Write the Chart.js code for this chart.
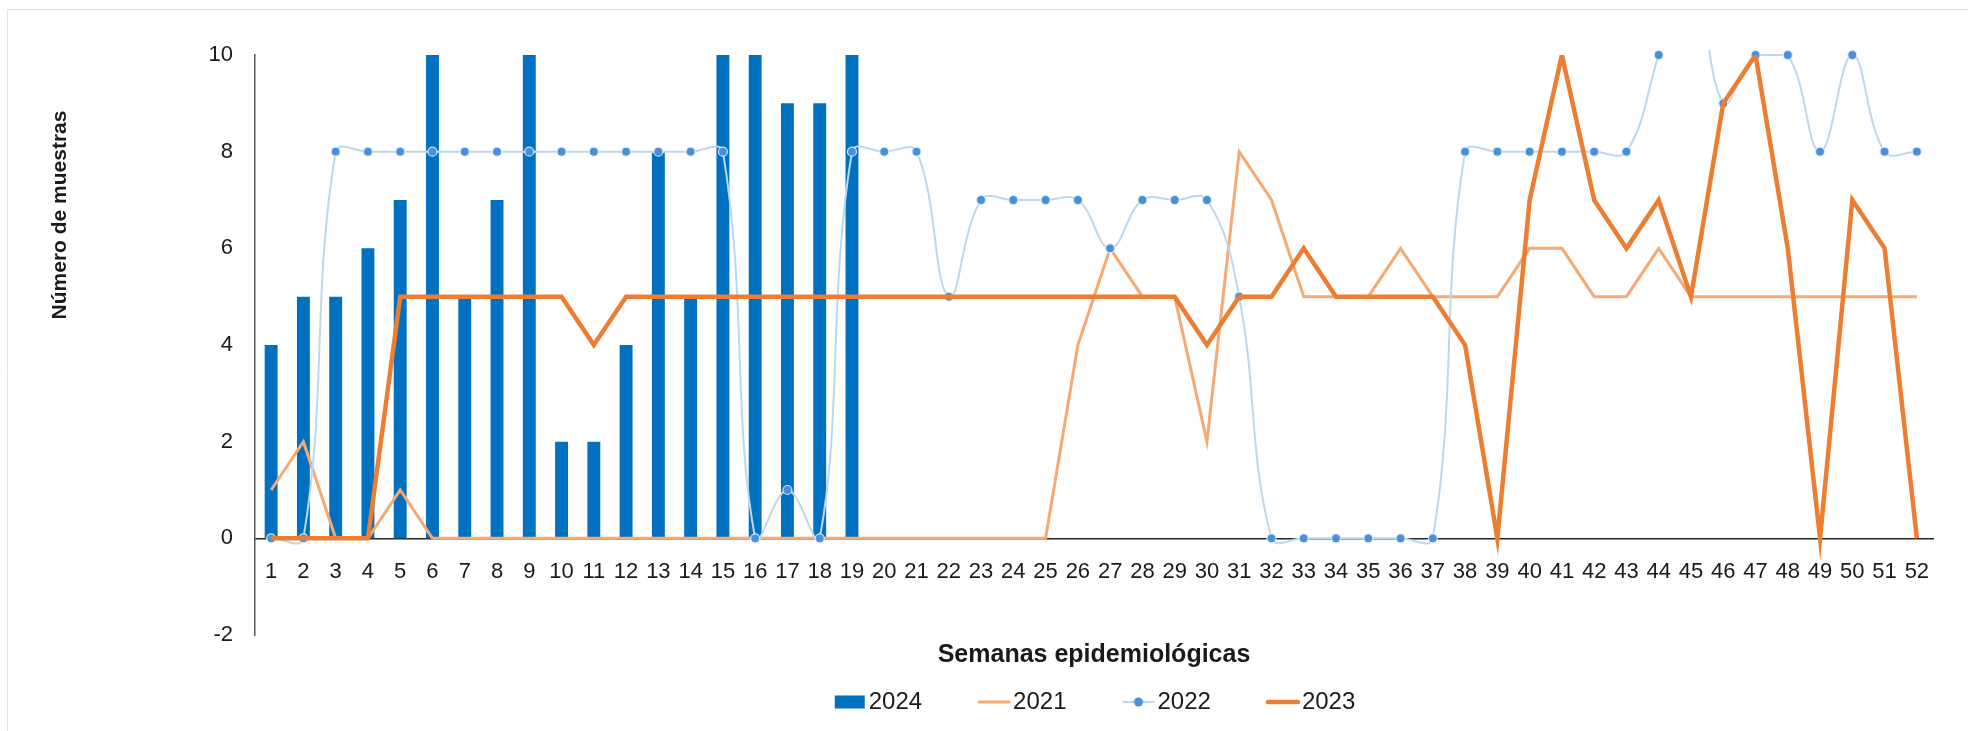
<!DOCTYPE html>
<html>
<head>
<meta charset="utf-8">
<script src="https://cdn.jsdelivr.net/npm/chart.js@4/dist/chart.umd.min.js"></script>
<style>
  body { margin: 0; background: #fff; }
  canvas { display: block; }
</style>
</head>
<body>
<canvas id="weekChart" width="1973" height="731"></canvas>
<script>
//############################
//######    Data     ########
//############################

const weeks = ["1","2","3","4","5","6","7","8","9","10","11","12","13",
  "14","15","16","17","18","19","20","21","22","23","24","25","26",
  "27","28","29","30","31","32","33","34","35","36","37","38","39",
  "40","41","42","43","44","45","46","47","48","49","50","51","52"];

// samples per week, 2024 only goes up to week 19
const s2024 = [4, 5, 5, 6, 7, 10, 5, 7, 10, 2, 2, 4, 8, 5, 10, 10, 9, 9, 10];

const s2021 = [1, 2, 0, 0, 1, 0, 0, 0, 0, 0,
  0, 0, 0, 0, 0, 0, 0, 0, 0, 0,
  0, 0, 0, 0, 0, 4, 6, 5, 5, 2,
  8, 7, 5, 5, 5, 6, 5, 5, 5, 6,
  6, 5, 5, 6, 5, 5, 5, 5, 5, 5,
  5, 5];

// week 45 goes above the top of the axis and is cut off
const s2022 = [0, 0, 8, 8, 8, 8, 8, 8, 8, 8,
  8, 8, 8, 8, 8, 0, 1, 0, 8, 8,
  8, 5, 7, 7, 7, 7, 6, 7, 7, 7,
  5, 0, 0, 0, 0, 0, 0, 8, 8, 8,
  8, 8, 8, 10, 12, 9, 10, 10, 8, 10,
  8, 8];

const s2023 = [0, 0, 0, 0, 5, 5, 5, 5, 5, 5,
  4, 5, 5, 5, 5, 5, 5, 5, 5, 5,
  5, 5, 5, 5, 5, 5, 5, 5, 5, 4,
  5, 5, 6, 5, 5, 5, 5, 4, 0, 7,
  10, 7, 6, 7, 5, 9, 10, 6, 0, 7,
  6, 0];

const yTicks = [-2, 0, 2, 4, 6, 8, 10];

const xTitle = "Semanas epidemiológicas";
const yTitle = "Número de muestras";

//############################
//######   Styling   ########
//############################

const FONT = '"Liberation Sans", Arial, sans-serif';
const TEXT = "#1a1a1a";

const colBar = "#0070C0";
const col2021 = "#F5A973";
const col2022 = "#BDD7EE";
const col2022Dot = "#4A90D9";
const col2023 = "#ED7D31";

// little canvases used as legend symbols, symbol sits on the right so it hugs the text
function legendMark(kind) {
  const c = document.createElement("canvas");
  c.width = 44;
  c.height = 14;
  const g = c.getContext("2d");
  if (kind === "bar") {
    g.fillStyle = colBar;
    g.fillRect(12, 0.5, 30, 13);
  } else {
    const color = kind === "2021" ? col2021 : kind === "2022" ? col2022 : col2023;
    g.strokeStyle = color;
    g.lineWidth = kind === "2023" ? 4.5 : kind === "2021" ? 3 : 2;
    g.lineCap = "round";
    g.beginPath();
    g.moveTo(12, 7);
    g.lineTo(42, 7);
    g.stroke();
    if (kind === "2022") {
      g.fillStyle = col2022Dot;
      g.beginPath();
      g.arc(27, 7, 4.5, 0, Math.PI * 2);
      g.fill();
    }
  }
  return c;
}

const marks = [legendMark("bar"), legendMark("2021"), legendMark("2022"), legendMark("2023")];

// axis titles + the faint frame
const titlesPlugin = {
  id: "titlesPlugin",
  beforeDraw(chart) {
    const ctx = chart.ctx;
    ctx.save();
    ctx.strokeStyle = "#e3e3e3";
    ctx.lineWidth = 1;
    ctx.beginPath();
    ctx.moveTo(7.5, chart.height);
    ctx.lineTo(7.5, 9.5);
    ctx.lineTo(chart.width - 4, 9.5);
    ctx.stroke();
    ctx.restore();
  },
  afterDraw(chart) {
    const ctx = chart.ctx;
    const area = chart.chartArea;
    ctx.save();
    ctx.fillStyle = TEXT;
    ctx.textAlign = "center";
    ctx.textBaseline = "middle";
    ctx.font = "bold 25px " + FONT;
    ctx.fillText(xTitle, (area.left + area.right) / 2, area.bottom + 20);
    ctx.font = "bold 21px " + FONT;
    ctx.translate(60, 215);
    ctx.rotate(-Math.PI / 2);
    ctx.fillText(yTitle, 0, 0);
    ctx.restore();
  }
};

//############################
//######    Chart    ########
//############################

const config = {
  type: "bar",
  data: {
    labels: weeks,
    datasets: [
      {
        type: "bar",
        label: "2024",
        data: s2024,
        backgroundColor: colBar,
        barPercentage: 0.4,
        categoryPercentage: 1,
        order: 4
      },
      {
        type: "line",
        label: "2021",
        data: s2021,
        borderColor: col2021,
        borderWidth: 3,
        pointRadius: 0,
        tension: 0,
        order: 3
      },
      {
        type: "line",
        label: "2022",
        data: s2022,
        borderColor: col2022,
        borderWidth: 2,
        pointRadius: 4.5,
        pointBackgroundColor: col2022Dot,
        pointBorderColor: "rgba(225,237,248,0.9)",
        pointBorderWidth: 1.2,
        tension: 0.4,
        clip: { left: 10, top: 5, right: 10, bottom: 10 },
        order: 2
      },
      {
        type: "line",
        label: "2023",
        data: s2023,
        borderColor: col2023,
        borderWidth: 4.5,
        pointRadius: 0,
        tension: 0,
        order: 1
      }
    ]
  },
  options: {
    responsive: false,
    animation: false,
    devicePixelRatio: 1,
    events: [],
    layout: {
      padding: { left: 0, right: 40, top: 55, bottom: 7 }
    },
    scales: {
      x: {
        type: "category",
        offset: true,
        position: { y: 0 },
        grid: { display: false, drawTicks: false },
        border: { display: true, color: "#262626", width: 1.5 },
        ticks: {
          color: TEXT,
          font: { family: FONT, size: 22 },
          padding: 20,
          autoSkip: false,
          maxRotation: 0
        }
      },
      y: {
        min: -2,
        max: 10,
        afterFit: function (scale) {
          scale.width = 255;
        },
        afterBuildTicks: function (scale) {
          scale.ticks = yTicks.map(v => ({ value: v }));
        },
        grid: { display: false, drawTicks: false },
        border: { display: true, color: "#595959", width: 1.5 },
        ticks: {
          color: TEXT,
          font: { family: FONT, size: 22 },
          padding: 22
        }
      }
    },
    plugins: {
      tooltip: { enabled: false },
      title: { display: false },
      legend: {
        display: true,
        position: "bottom",
        fullSize: false,
        labels: {
          usePointStyle: true,
          pointStyleWidth: 24,
          padding: 55,
          color: TEXT,
          font: { family: FONT, size: 24 },
          generateLabels: function (chart) {
            return chart.data.datasets.map(function (ds, i) {
              return {
                text: ds.label,
                datasetIndex: i,
                pointStyle: marks[i],
                fillStyle: "transparent",
                strokeStyle: "transparent",
                lineWidth: 0,
                fontColor: TEXT,
                hidden: false
              };
            });
          }
        }
      }
    }
  },
  plugins: [titlesPlugin]
};

const weekChart = new Chart(document.getElementById("weekChart"), config);
</script>
</body>
</html>
